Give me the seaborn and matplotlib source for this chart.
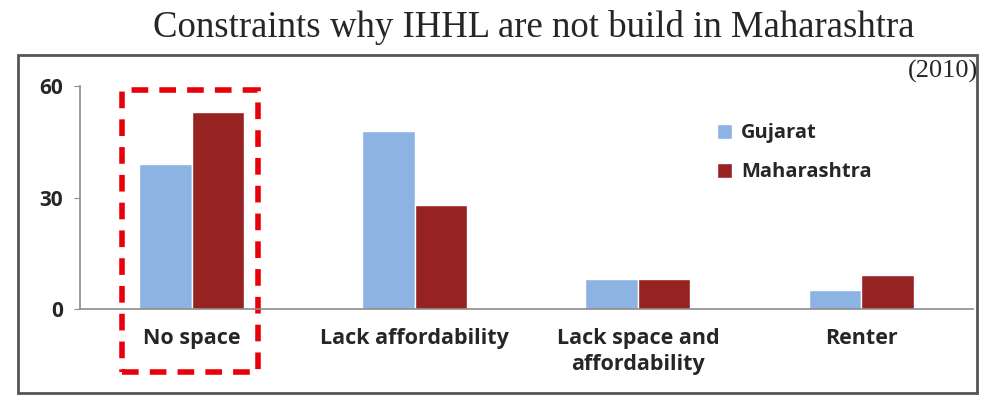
import matplotlib
matplotlib.use("Agg")
import matplotlib.pyplot as plt
import matplotlib.patches as mpatches
import pandas as pd
import seaborn as sns

# 데이터
categories = ["No space", "Lack affordability", "Lack space and\naffordability", "Renter"]
gujarat = [39, 48, 8, 5]
maharashtra = [53, 28, 8, 9]
states = ["Gujarat", "Maharashtra"]
colors = ["#8db3e2", "#962222"]

df = pd.DataFrame({
    "category": categories * 2,
    "value": gujarat + maharashtra,
    "state": [states[0]] * 4 + [states[1]] * 4,
})

sns.set_style("white")
plt.rcParams["font.family"] = ["Open Sans", "DejaVu Sans"]

fig = plt.figure(figsize=(9.81, 3.95), dpi=100)
ax = fig.add_axes([0.0815, 0.218, 0.91, 0.564])

sns.barplot(data=df, x="category", y="value", hue="state", palette=colors,
            width=0.47, saturation=1, ax=ax, legend=True)

ax.set_ylim(0, 60)
ax.set_xlim(-0.5, 3.5)
ax.set_yticks([0, 30, 60])
ax.set_xlabel("")
ax.set_ylabel("")
for s in ["top", "right"]:
    ax.spines[s].set_visible(False)
for s in ["left", "bottom"]:
    ax.spines[s].set_color("#8c8c8c")
    ax.spines[s].set_linewidth(1.2)

# 카테고리 경계에 작은 눈금
ax.set_xticks([0.5, 1.5, 2.5], minor=True)
ax.tick_params(axis="x", which="major", length=0, pad=14, labelsize=15.5, labelcolor="#262626")
ax.tick_params(axis="x", which="minor", length=4, color="#8c8c8c", direction="out")
ax.tick_params(axis="y", length=4, color="#8c8c8c", direction="out", labelsize=15,
               labelcolor="#262626", left=True, pad=8)
for lbl in ax.get_xticklabels() + ax.get_yticklabels():
    lbl.set_fontweight("bold")
for lbl in ax.get_xticklabels():
    lbl.set_linespacing(1.3)

leg = ax.legend(loc="upper left", bbox_to_anchor=(0.693, 0.915), frameon=False,
                handlelength=0.75, handleheight=0.75, handletextpad=0.45,
                labelspacing=0.95, prop={"weight": "bold", "size": 14.5})
for t in leg.get_texts():
    t.set_color("#262626")

# 빨간 점선 박스 (No space 강조)
rect = mpatches.Rectangle((-0.31, -17), 0.61, 76, fill=False, edgecolor="#e8000b",
                          linewidth=4, linestyle=(0, (3, 2)), clip_on=False)
ax.add_patch(rect)

# 바깥 테두리
frame = mpatches.Rectangle((18 / 981, 0.005), 959 / 981, 1 - 0.005 - 55 / 395,
                           transform=fig.transFigure, fill=False,
                           edgecolor="#555555", linewidth=2)
fig.patches.append(frame)

fig.text(0.544, 0.93, "Constraints why IHHL are not build in Maharashtra",
         ha="center", va="center", fontsize=26.5, family="Liberation Serif")
fig.text(0.997, 0.82, "(2010)", ha="right", va="center", fontsize=19,
         family="Liberation Serif")

fig.savefig("out.png", dpi=100)
